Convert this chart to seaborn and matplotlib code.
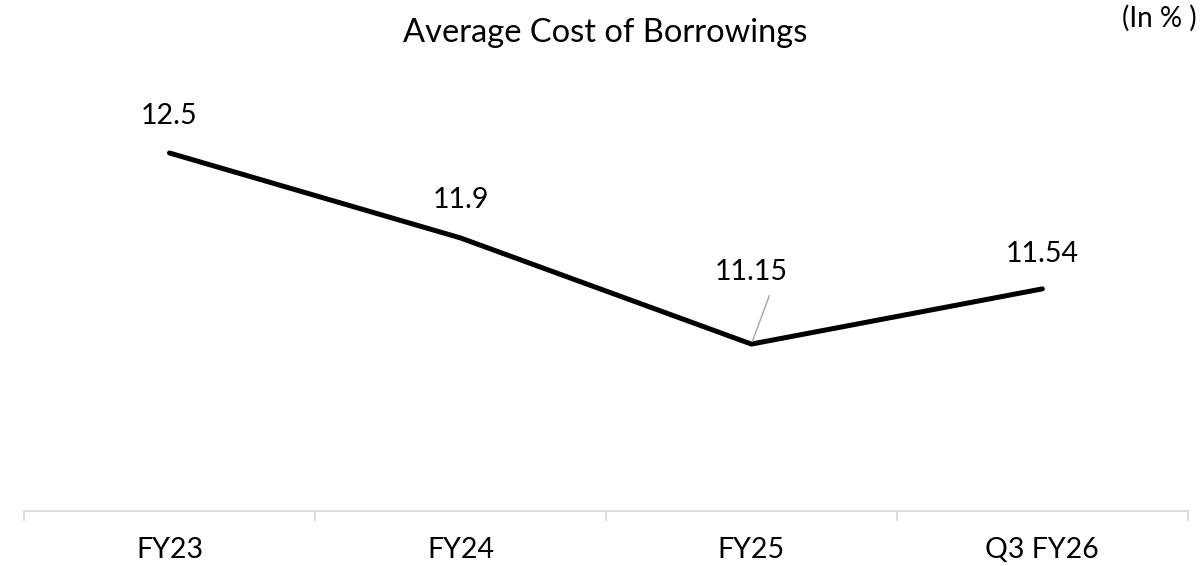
from matplotlib import pyplot as plt
import pandas as pd
import seaborn as sns

# chart data
periods = ["FY23", "FY24", "FY25", "Q3 FY26"]
cost = [12.5, 11.9, 11.15, 11.54]
labels = ["12.5", "11.9", "11.15", "11.54"]

df = pd.DataFrame({"period": periods, "cost": cost})

sns.set_style("white")
plt.rcParams['font.family'] = ['Lato', 'DejaVu Sans']
plt.rcParams['text.color'] = 'black'
plt.rcParams['xtick.color'] = 'black'

fig = plt.figure(figsize=(12.01, 5.66), dpi=100)
ax = fig.add_axes([0.02, 0.097, 0.969, 0.797])

sns.lineplot(data=df, x="period", y="cost", ax=ax, color="black",
             linewidth=3.6, sort=False)

ax.set_xlim(-0.5, 3.5)
ax.set_ylim(9.97, 13.157)

# data labels (FY25 one is pushed up with a leader line)
offsets = [37, 38, 72, 35]
for i, (v, lab, off) in enumerate(zip(cost, labels, offsets)):
    ax.annotate(lab, xy=(i, v), xytext=(0, off * 0.72), textcoords="offset points",
                ha="center", va="center", fontsize=20.5, color="black")
ax.annotate("", xy=(2, 11.15), xytext=(2.065, 11.15 + 51 / 141.5),
            arrowprops=dict(arrowstyle="-", color="#a6a6a6", lw=1))

for s in ["top", "right", "left"]:
    ax.spines[s].set_visible(False)
ax.spines["bottom"].set_color("#d9d9d9")
ax.spines["bottom"].set_linewidth(1.3)

ax.set_yticks([])
ax.set_xticks(range(len(periods)))
ax.set_xticklabels(periods, fontsize=20.5)
ax.set_xticks([-0.5, 0.5, 1.5, 2.5, 3.5], minor=True)
ax.tick_params(axis="x", which="major", length=0, pad=19, bottom=True)
ax.tick_params(axis="x", which="minor", length=7.5, color="#d9d9d9", width=1.3,
               direction="out", bottom=True)
ax.set_xlabel("")
ax.set_ylabel("")

fig.text(0.504, 0.942, "Average Cost of Borrowings", ha="center", va="center",
         fontsize=23.5)
fig.text(0.996, 0.968, "(In % )", ha="right", va="center", fontsize=20)

fig.savefig("out.png", dpi=100)
